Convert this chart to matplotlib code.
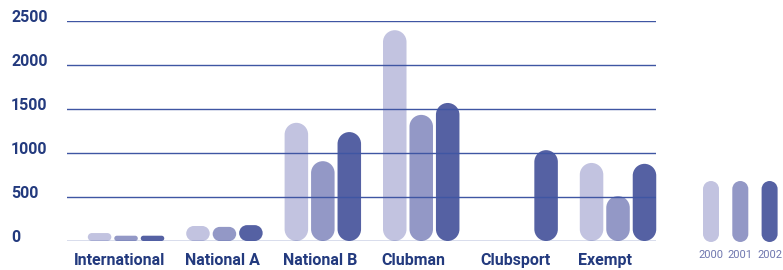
import matplotlib
matplotlib.use("Agg")
import numpy as np
import matplotlib.pyplot as plt
from matplotlib.patches import PathPatch
from matplotlib.path import Path
from matplotlib.transforms import blended_transform_factory, offset_copy

# Datos
categories = ["International", "National A", "National B", "Clubman", "Clubsport", "Exempt"]
years = ["2000", "2001", "2002"]
values_2000 = [90, 170, 1340, 2390, None, 885]
values_2001 = [60, 160, 905, 1430, None, 510]
values_2002 = [60, 180, 1235, 1565, 1030, 875]
y_ticks = [0, 500, 1000, 1500, 2000, 2500]

colors = ["#C2C3E0", "#9398C6", "#5561A3"]
grid_color = "#3F56A3"
text_color = "#233A7E"

W, H = 783, 270
fig = plt.figure(figsize=(W / 100, H / 100), dpi=100)

# Ejes principales (posición en píxeles)
ax_left, ax_right, ax_bottom, ax_top = 67, 656, 29, 249.5
ax = fig.add_axes([ax_left / W, ax_bottom / H, (ax_right - ax_left) / W, (ax_top - ax_bottom) / H])
xlim = (-0.6, 5.386)
ylim = (0, 2500)
ax.set_xlim(*xlim)
ax.set_ylim(*ylim)
ax.axis("off")

# unidades de datos por píxel, para esquinas circulares
x_per_px = (xlim[1] - xlim[0]) / (ax_right - ax_left)
y_per_px = (ylim[1] - ylim[0]) / (ax_top - ax_bottom)

bar_w = 0.239
bar_step = 0.269
series = [values_2000, values_2001, values_2002]


def pill_path(x0, y0, w, h, xpp, ypp):
    """Rectángulo con esquinas circulares de radio min(ancho, alto)/2 (en píxeles)."""
    r_px = min(w / xpp, h / ypp) / 2
    rx, ry = r_px * xpp, r_px * ypp
    x1, y1 = x0 + w, y0 + h
    corners = [(-90, 0, x1 - rx, y0 + ry), (0, 90, x1 - rx, y1 - ry),
               (90, 180, x0 + rx, y1 - ry), (180, 270, x0 + rx, y0 + ry)]
    verts, codes = [], []
    for k, (a1, a2, cx, cy) in enumerate(corners):
        arc = Path.arc(a1, a2)
        v = arc.vertices * [rx, ry] + [cx, cy]
        c = arc.codes.copy()
        c[0] = Path.MOVETO if k == 0 else Path.LINETO
        verts.append(v)
        codes.append(c)
    verts.append(verts[0][:1])
    codes.append(np.array([Path.CLOSEPOLY]))
    return Path(np.concatenate(verts), np.concatenate(codes))


for i, cat in enumerate(categories):
    for j, vals in enumerate(series):
        v = vals[i]
        if v is None:
            continue
        x = i + (j - 1) * bar_step
        ax.add_patch(PathPatch(pill_path(x - bar_w / 2, 0, bar_w, v, x_per_px, y_per_px),
                               facecolor=colors[j], edgecolor="none", zorder=2, clip_on=False))

# Líneas horizontales
for t in y_ticks:
    ax.axhline(t, color=grid_color, linewidth=1.0, zorder=3)

# Etiquetas del eje Y (alineadas a la izquierda, un poco arriba de la línea)
ytrans = offset_copy(blended_transform_factory(fig.transFigure, ax.transData), fig=fig, x=0, y=3, units="dots")
for t in y_ticks:
    ax.text(11 / W, t, str(t), transform=ytrans, ha="left", va="center",
            fontsize=11.5, fontweight="bold", color=text_color, family="Roboto")

# Etiquetas de categoría
xtrans = blended_transform_factory(ax.transData, fig.transFigure)
for i, cat in enumerate(categories):
    left = i - bar_step - bar_w / 2
    right = i + bar_step + bar_w / 2
    if i == 0:
        ax.text(right + 0.01, 5 / H, cat, transform=xtrans, ha="right", va="baseline",
                fontsize=11.5, fontweight="bold", color=text_color, family="Roboto")
    else:
        ax.text(left - 0.015, 5 / H, cat, transform=xtrans, ha="left", va="baseline",
                fontsize=11.5, fontweight="bold", color=text_color, family="Roboto")

# Leyenda (cápsulas verticales)
lax = fig.add_axes([690 / W, 0, 93 / W, 110 / H])
lax.set_xlim(0, 93)
lax.set_ylim(0, 110)
lax.axis("off")
for j, (yr, c) in enumerate(zip(years, colors)):
    cx = 21 + j * 29.3
    lax.add_patch(PathPatch(pill_path(cx - 8, 28, 16, 61, 1.0, 1.0), facecolor=c, edgecolor="none"))
    lax.text(cx, 12, yr, ha="center", va="baseline", fontsize=8,
             color="#6E76AE", family="Roboto")

fig.savefig("out.png", dpi=100)
